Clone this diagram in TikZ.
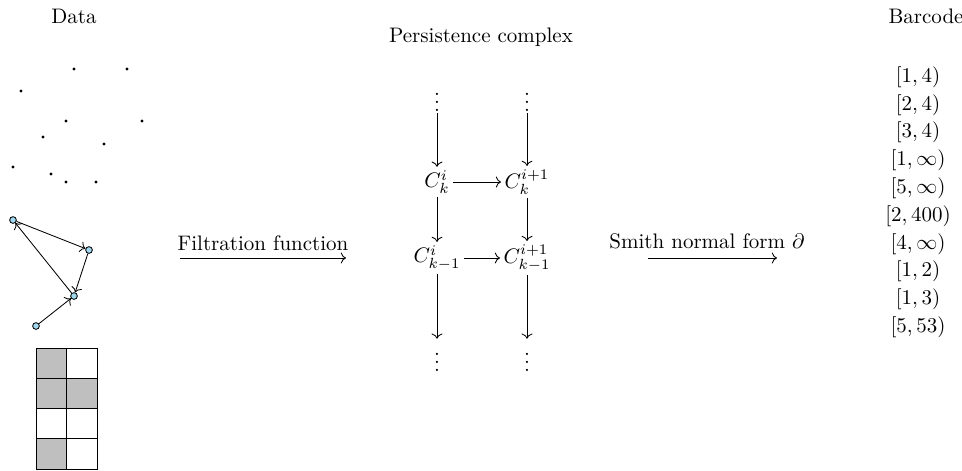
\documentclass[tikz,border=0pt]{standalone}
\usetikzlibrary{arrows.meta}
\definecolor{nodeblue}{RGB}{160,215,238}
\begin{document}
\begin{tikzpicture}[x=0.4762pt,y=-0.4762pt,
  datadot/.style={circle,fill=black,inner sep=0pt,minimum size=1.5pt},
  gnode/.style={circle,draw=black,fill=nodeblue,inner sep=0pt,minimum size=3.2pt,line width=0.4pt},
  garrow/.style={->,line width=0.4pt},
  cnode/.style={inner sep=1.5pt},
  vnode/.style={inner sep=0.5pt},
  carrow/.style={->},
  barrow/.style={inner sep=0pt,text height=7.5pt,text depth=2.5pt}
]
\useasboundingbox (0,0) rectangle (962,470);
% titles
\node (data) at (74,16) {Data};
\node (pc) at (481,37) {Persistence complex};
\node (bc) at (926,16) {Barcode};
% data points
\foreach \px/\py [count=\i] in {74/69,127/69,21/91,66/121,142/121,43/137,104/144,13/167,51/174,66/182,96/182}
  \node[datadot] (p\i) at (\px,\py) {};
% graph
\node[gnode] (g1) at (13,220) {};
\node[gnode] (g2) at (89,250) {};
\node[gnode] (g3) at (74,296) {};
\node[gnode] (g4) at (36,326) {};
\draw[garrow] (g1) -- (g2);
\draw[garrow] (g2) -- (g3);
\draw[garrow] (g3) -- (g1);
\draw[garrow] (g4) -- (g3);
% grid
\fill[lightgray] (36,348) rectangle (66.5,378.25);
\fill[lightgray] (36,378.25) rectangle (97,408.5);
\fill[lightgray] (36,438.75) rectangle (66.5,469);
\draw (36,348) rectangle (97,469);
\draw (66.5,348) -- (66.5,469);
\foreach \yy in {378.25,408.5,438.75} \draw (36,\yy) -- (97,\yy);
% filtration arrow
\coordinate (f1) at (180,258);
\coordinate (f2) at (346,258);
\draw[carrow] (f1) -- (f2);
\node (flab) at (263,243) {Filtration function};
% persistence complex
\node[vnode] (v1) at (437,96) {$\vdots$};
\node[vnode] (v2) at (527,96) {$\vdots$};
\node[cnode] (a) at (437,182) {$C_k^i$};
\node[cnode] (b) at (527,182) {$C_k^{i+1}$};
\node[cnode] (c) at (437,258) {$C_{k-1}^i$};
\node[cnode] (d) at (527,258) {$C_{k-1}^{i+1}$};
\node[vnode] (w1) at (437,356) {$\vdots$};
\node[vnode] (w2) at (527,356) {$\vdots$};
\draw[carrow] (v1) -- (a);
\draw[carrow] (v2) -- (b);
\draw[carrow] (a) -- (c);
\draw[carrow] (b) -- (d);
\draw[carrow] (c) -- (w1);
\draw[carrow] (d) -- (w2);
\draw[carrow] (a.east) -- (b.west |- a.east);
\draw[carrow] (c.east) -- (d.west |- c.east);
% smith arrow
\coordinate (s1) at (648,258);
\coordinate (s2) at (777,258);
\draw[carrow] (s1) -- (s2);
\node (slab) at (707,241) {Smith normal form $\partial$};
% barcode
\foreach \txt [count=\i] in {{[1,4)},{[2,4)},{[3,4)},{[1,\infty)},{[5,\infty)},{[2,400)},{[4,\infty)},{[1,2)},{[1,3)},{[5,53)}}
  \node[barrow] (b\i) at (918,{77+27.8*(\i-1)}) {$\txt$};
\end{tikzpicture}
\end{document}
